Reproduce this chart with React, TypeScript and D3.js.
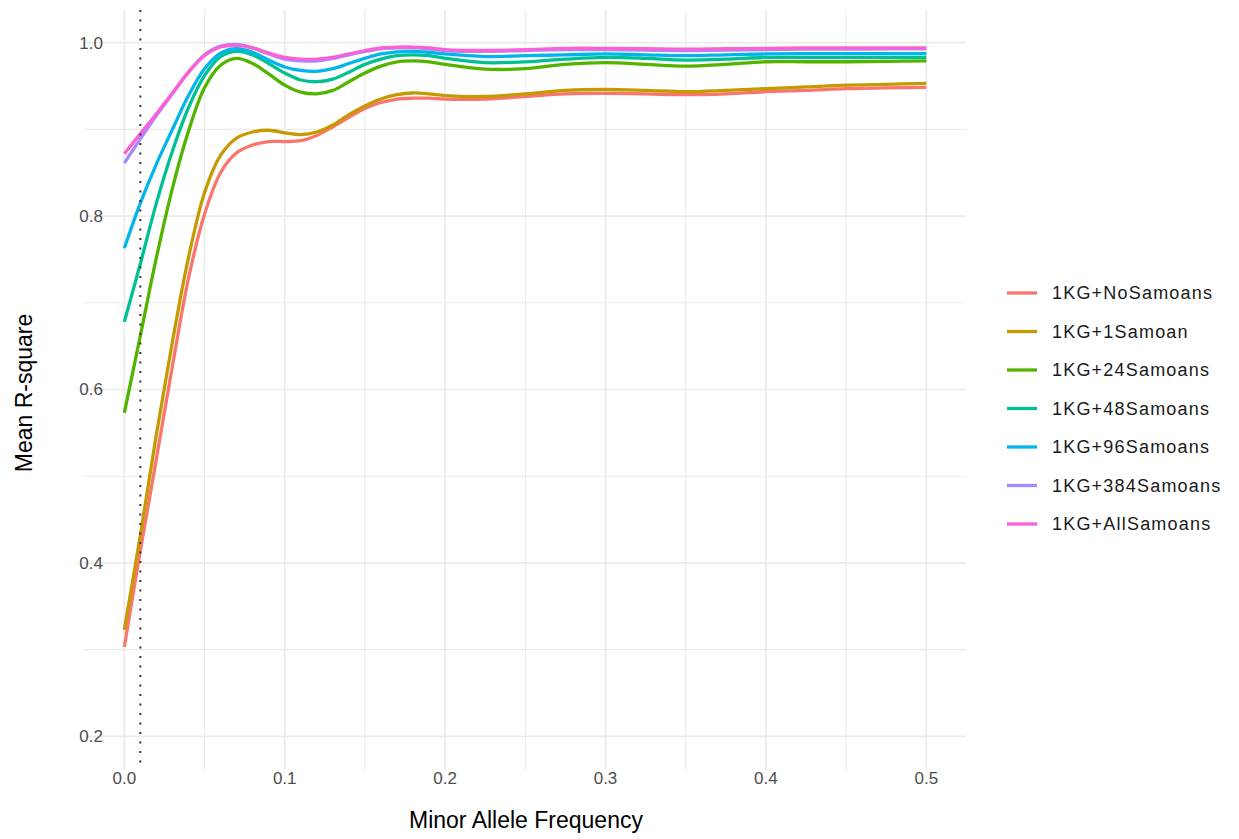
import React, { useRef, useEffect } from "react";
import * as d3 from "d3";

// minor allele frequency grid the smoothed curves were read at
const maf = [
  0, 0.01, 0.02, 0.03, 0.04, 0.05, 0.06, 0.07, 0.08, 0.09, 0.1, 0.11, 0.12, 0.13, 0.14, 0.15,
  0.16, 0.17, 0.18, 0.19, 0.2, 0.225, 0.25, 0.275, 0.3, 0.325, 0.35, 0.375, 0.4, 0.425, 0.45,
  0.475, 0.5,
];

const noSamoans = [
  0.303, 0.414, 0.52, 0.627, 0.728, 0.802, 0.85, 0.873, 0.882, 0.886, 0.886, 0.887, 0.893, 0.903,
  0.914, 0.924, 0.931, 0.935, 0.936, 0.936, 0.935, 0.935, 0.938, 0.941, 0.9415, 0.941, 0.94, 0.941,
  0.9435, 0.945, 0.947, 0.948, 0.9485,
];
const oneSamoan = [
  0.323, 0.432, 0.548, 0.655, 0.752, 0.827, 0.87, 0.89, 0.897, 0.899, 0.896, 0.894, 0.897, 0.905,
  0.917, 0.927, 0.935, 0.94, 0.942, 0.941, 0.939, 0.938, 0.941, 0.945, 0.946, 0.945, 0.9435, 0.945,
  0.947, 0.949, 0.951, 0.952, 0.953,
];
const samoans24 = [
  0.573, 0.662, 0.752, 0.832, 0.898, 0.948, 0.974, 0.982, 0.976, 0.964, 0.951, 0.943, 0.941, 0.945,
  0.955, 0.965, 0.973, 0.978, 0.979, 0.978, 0.975, 0.9695, 0.97, 0.975, 0.977, 0.975, 0.973, 0.975,
  0.978, 0.978, 0.978, 0.9785, 0.979,
];
const samoans48 = [
  0.678, 0.745, 0.815, 0.875, 0.925, 0.962, 0.984, 0.99, 0.986, 0.976, 0.965, 0.957, 0.955, 0.958,
  0.966, 0.975, 0.981, 0.985, 0.986, 0.985, 0.982, 0.977, 0.978, 0.981, 0.983, 0.982, 0.98, 0.981,
  0.983, 0.983, 0.983, 0.983, 0.983,
];
const samoans96 = [
  0.763, 0.815, 0.86, 0.9, 0.939, 0.97, 0.988, 0.993, 0.989, 0.98, 0.972, 0.968, 0.967, 0.97,
  0.976, 0.982, 0.987, 0.9895, 0.99, 0.989, 0.987, 0.984, 0.985, 0.986, 0.987, 0.986, 0.985, 0.986,
  0.987, 0.9875, 0.9875, 0.9875, 0.9875,
];
const samoans384 = [
  0.861, 0.889, 0.916, 0.941, 0.966, 0.986, 0.996, 0.998, 0.994, 0.987, 0.981, 0.979, 0.979, 0.982,
  0.986, 0.99, 0.993, 0.994, 0.994, 0.993, 0.991, 0.99, 0.991, 0.992, 0.992, 0.9915, 0.991, 0.9915,
  0.992, 0.9925, 0.9925, 0.993, 0.993,
];
const allSamoans = [
  0.872, 0.895, 0.918, 0.942, 0.966, 0.985, 0.995, 0.997, 0.994, 0.988, 0.983, 0.981, 0.981, 0.983,
  0.987, 0.991, 0.994, 0.995, 0.995, 0.994, 0.992, 0.991, 0.992, 0.9935, 0.9935, 0.993, 0.9925,
  0.993, 0.9935, 0.994, 0.994, 0.994, 0.994,
];

const seriesNames = [
  "1KG+NoSamoans",
  "1KG+1Samoan",
  "1KG+24Samoans",
  "1KG+48Samoans",
  "1KG+96Samoans",
  "1KG+384Samoans",
  "1KG+AllSamoans",
];
const seriesValues = [noSamoans, oneSamoan, samoans24, samoans48, samoans96, samoans384, allSamoans];
const colors = ["#F8766D", "#C49A00", "#53B400", "#00C094", "#00B6EB", "#A58AFF", "#FB61D7"];

const xTicks = [0, 0.1, 0.2, 0.3, 0.4, 0.5];
const xMinor = [0.05, 0.15, 0.25, 0.35, 0.45];
const yTicks = [0.2, 0.4, 0.6, 0.8, 1.0];
const yMinor = [0.3, 0.5, 0.7, 0.9];
const cutoff = 0.01;

const App = () => {
  const svgRef = useRef(null);

  useEffect(() => {
    const width = 1239;
    const height = 839;
    const panel = { left: 84, right: 966, top: 10, bottom: 770 };
    const font = "'Liberation Sans', Arial, sans-serif";

    const svg = d3.select(svgRef.current).attr("width", width).attr("height", height);
    svg.selectAll("*").remove();

    const x = d3.scaleLinear().domain([0, 0.5]).range([124.3, 926.3]);
    const y = d3.scaleLinear().domain([0.2, 1.0]).range([736.3, 42.7]);

    const grid = svg.append("g").attr("class", "grid");
    // minor gridlines
    grid.selectAll(".xminor").data(xMinor).enter().append("line")
      .attr("x1", (d) => x(d)).attr("x2", (d) => x(d))
      .attr("y1", panel.top).attr("y2", panel.bottom)
      .attr("stroke", "#EBEBEB").attr("stroke-width", 1.1);
    grid.selectAll(".yminor").data(yMinor).enter().append("line")
      .attr("x1", panel.left).attr("x2", panel.right)
      .attr("y1", (d) => y(d)).attr("y2", (d) => y(d))
      .attr("stroke", "#EBEBEB").attr("stroke-width", 1.1);
    // major gridlines
    grid.selectAll(".xmajor").data(xTicks).enter().append("line")
      .attr("x1", (d) => x(d)).attr("x2", (d) => x(d))
      .attr("y1", panel.top).attr("y2", panel.bottom)
      .attr("stroke", "#EBEBEB").attr("stroke-width", 1.7);
    grid.selectAll(".ymajor").data(yTicks).enter().append("line")
      .attr("x1", panel.left).attr("x2", panel.right)
      .attr("y1", (d) => y(d)).attr("y2", (d) => y(d))
      .attr("stroke", "#EBEBEB").attr("stroke-width", 1.7);

    // tick labels
    svg.append("g").selectAll("text").data(xTicks).enter().append("text")
      .attr("x", (d) => x(d)).attr("y", 784)
      .attr("text-anchor", "middle")
      .attr("font-family", font).attr("font-size", 17).attr("fill", "#4D4D4D")
      .text((d) => d3.format(".1f")(d));
    svg.append("g").selectAll("text").data(yTicks).enter().append("text")
      .attr("x", 103).attr("y", (d) => y(d)).attr("dy", "0.35em")
      .attr("text-anchor", "end")
      .attr("font-family", font).attr("font-size", 17).attr("fill", "#4D4D4D")
      .text((d) => d3.format(".1f")(d));

    // axis titles
    svg.append("text")
      .attr("x", 526).attr("y", 828)
      .attr("text-anchor", "middle")
      .attr("font-family", font).attr("font-size", 23).attr("fill", "#000")
      .text("Minor Allele Frequency");
    svg.append("text")
      .attr("transform", "translate(32,393) rotate(-90)")
      .attr("text-anchor", "middle")
      .attr("font-family", font).attr("font-size", 23).attr("fill", "#000")
      .text("Mean R-square");

    // curves
    const line = d3.line()
      .x((d) => x(d[0]))
      .y((d) => y(d[1]))
      .curve(d3.curveCatmullRom.alpha(0.5));

    svg.append("g").selectAll("path")
      .data(seriesValues)
      .enter()
      .append("path")
      .attr("d", (vals) => line(maf.map((m, i) => [m, vals[i]])))
      .attr("fill", "none")
      .attr("stroke", (d, i) => colors[i])
      .attr("stroke-width", 3.3);

    // MAF cutoff
    svg.append("line")
      .attr("x1", x(cutoff)).attr("x2", x(cutoff))
      .attr("y1", panel.top).attr("y2", panel.bottom)
      .attr("stroke", "#333").attr("stroke-width", 2)
      .attr("stroke-dasharray", "2,7.5");

    // legend
    const legend = svg.append("g").attr("transform", "translate(1006,293)");
    const items = legend.selectAll("g").data(seriesNames).enter().append("g")
      .attr("transform", (d, i) => "translate(0," + i * 38.5 + ")");
    items.append("line")
      .attr("x1", 1).attr("x2", 31).attr("y1", 0).attr("y2", 0)
      .attr("stroke", (d, i) => colors[i]).attr("stroke-width", 3.3);
    items.append("text")
      .attr("x", 46).attr("dy", "0.35em")
      .attr("font-family", font).attr("font-size", 18).attr("letter-spacing", 1.2)
      .attr("fill", "#1A1A1A")
      .text((d) => d);
  }, [svgRef.current]);

  return (
    <svg ref={svgRef} style={{ position: "absolute", left: 0, top: 0, background: "#fff" }} />
  );
};

export default App;
